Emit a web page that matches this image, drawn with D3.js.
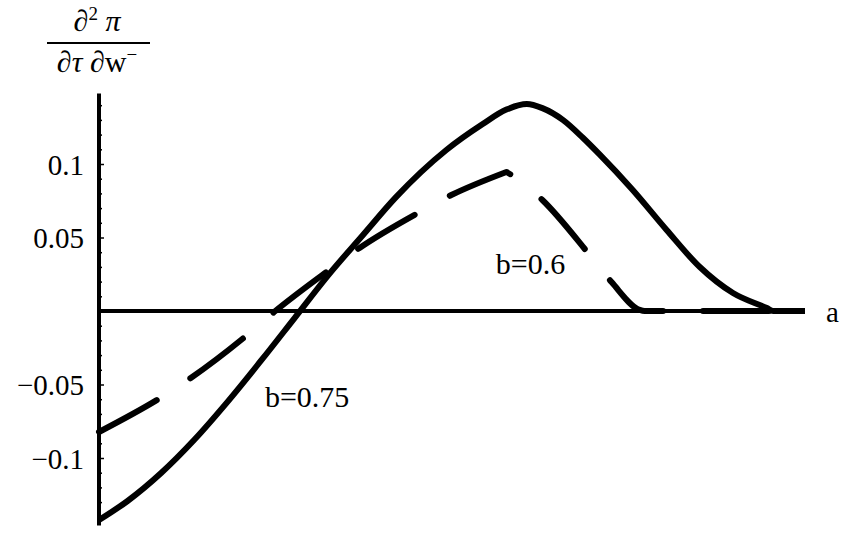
<!DOCTYPE html>
<html>
<head>
<meta charset="utf-8">
<script src="https://cdn.jsdelivr.net/npm/d3@7"></script>
<style>
  body { margin: 0; background: #fff; }
  text { font-family: "Liberation Serif", "Times New Roman", serif; fill: #000; }
</style>
</head>
<body>
<svg id="chart"></svg>
<script>
// curve values (a on [0,1])
const aSolid = [0, 0.04, 0.088, 0.135, 0.182, 0.23, 0.277, 0.326, 0.373, 0.421, 0.492, 0.543, 0.577, 0.606, 0.628, 0.657, 0.685, 0.709, 0.756, 0.804, 0.851, 0.898, 0.946, 0.955, 1];
const vSolid = [-0.1422, -0.1294, -0.1102, -0.0876, -0.0618, -0.0335, -0.0048, 0.0251, 0.0512, 0.0776, 0.1095, 0.127, 0.137, 0.1408, 0.138, 0.130, 0.118, 0.1065, 0.0823, 0.0551, 0.0299, 0.0122, 0.002, 0, 0];

const aDashed = [0, 0.089, 0.13, 0.21, 0.248, 0.326, 0.369, 0.454, 0.499, 0.577, 0.591, 0.628, 0.695, 0.726, 0.766, 0.773, 1];
const vDashed = [-0.0823, -0.0585, -0.0456, -0.0163, -0.0007, 0.0279, 0.0429, 0.0673, 0.0789, 0.0946, 0.0905, 0.0755, 0.0381, 0.0197, 0.0007, 0, 0];

const yMajor = [-0.1, -0.05, 0.05, 0.1];
const yMinor = d3.range(-14, 15).map(i => i / 100).filter(v => v !== 0 && !yMajor.some(m => Math.abs(m - v) < 1e-9));

const curveLabels = [
  { text: "b=0.75", a: 0.235, v: -0.065 },
  { text: "b=0.6", a: 0.562, v: 0.0252 }
];

const width = 841, height = 534;

const svg = d3.select("#chart")
  .attr("width", width)
  .attr("height", height);

const x = d3.scaleLinear().domain([0, 1]).range([99, 805]);
const y = d3.scaleLinear().domain([-0.1, 0.1]).range([458, 164]);

// y ticks (pointing into the plot)
svg.append("g")
  .attr("transform", `translate(${x(0)},0)`)
  .call(d3.axisLeft(y).tickValues(yMinor).tickSize(-3).tickFormat(""))
  .call(g => g.select(".domain").remove())
  .call(g => g.selectAll("line").attr("stroke-width", 1.5));

svg.append("g")
  .attr("transform", `translate(${x(0)},0)`)
  .call(d3.axisLeft(y).tickValues(yMajor).tickSize(-5).tickPadding(15).tickFormat(d3.format("~g")))
  .call(g => g.select(".domain").remove())
  .call(g => g.selectAll("line").attr("stroke-width", 1.5))
  .call(g => g.selectAll("text")
    .attr("font-size", 29)
    .attr("dy", "0.35em"));

// axes lines
svg.append("line")
  .attr("x1", x(0)).attr("x2", x(0))
  .attr("y1", y(0.148)).attr("y2", y(-0.146))
  .attr("stroke", "#000").attr("stroke-width", 4);

svg.append("line")
  .attr("x1", x(0)).attr("x2", x(1))
  .attr("y1", y(0)).attr("y2", y(0))
  .attr("stroke", "#000").attr("stroke-width", 4);

const line = d3.line()
  .x(d => x(d[0]))
  .y(d => y(d[1]))
  .curve(d3.curveMonotoneX);

const solid = aSolid.map((a, i) => [a, vSolid[i]]);
const dashed = aDashed.map((a, i) => [a, vDashed[i]]);

svg.append("path")
  .attr("d", line(solid))
  .attr("fill", "none")
  .attr("stroke", "#000")
  .attr("stroke-width", 6)
  .attr("stroke-linejoin", "round");

// dashed curve has a corner at its peak: two pieces joined into one path
const peak = d3.maxIndex(vDashed);
const dPath = line(dashed.slice(0, peak + 1)) + line(dashed.slice(peak)).replace(/^M/, "L");

svg.append("path")
  .attr("d", dPath)
  .attr("fill", "none")
  .attr("stroke", "#000")
  .attr("stroke-width", 6)
  .attr("stroke-linecap", "round")
  .attr("stroke-linejoin", "round")
  .attr("stroke-dasharray", "66,40");

// curve labels
svg.selectAll(".clabel")
  .data(curveLabels)
  .enter()
  .append("text")
  .attr("class", "clabel")
  .attr("x", d => x(d.a))
  .attr("y", d => y(d.v))
  .attr("font-size", 30)
  .text(d => d.text);

// x axis label
svg.append("text")
  .attr("x", 826)
  .attr("y", 322)
  .attr("font-size", 29)
  .text("a");

// y axis label as a fraction
const ylab = svg.append("g").attr("transform", "translate(97,0)");
const num = ylab.append("text")
  .attr("y", 31)
  .attr("text-anchor", "middle")
  .attr("font-size", 30);
num.append("tspan").text("∂");
num.append("tspan").attr("font-size", 19).attr("dy", -11).text("2");
num.append("tspan").attr("font-style", "italic").attr("dy", 11).text(" π");

ylab.append("line")
  .attr("x1", -50).attr("x2", 53)
  .attr("y1", 43).attr("y2", 43)
  .attr("stroke", "#000").attr("stroke-width", 2);

const den = ylab.append("text")
  .attr("y", 72)
  .attr("text-anchor", "middle")
  .attr("font-size", 30);
den.append("tspan").text("∂");
den.append("tspan").attr("font-style", "italic").text("τ ");
den.append("tspan").text("∂w");
den.append("tspan").attr("font-size", 19).attr("dy", -11).text("−");
</script>
</body>
</html>
